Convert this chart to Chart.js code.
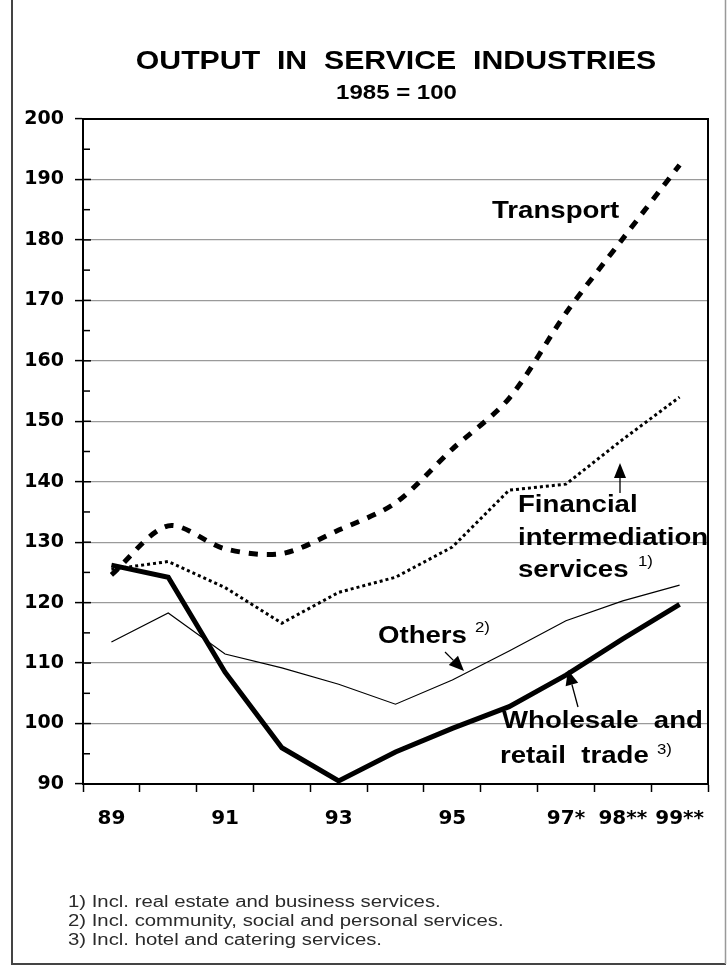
<!DOCTYPE html>
<html>
<head>
<meta charset="utf-8">
<script src="https://cdn.jsdelivr.net/npm/chart.js@4.4.0/dist/chart.umd.min.js"></script>
<style>
  html, body { margin: 0; padding: 0; background: #fff; }
  canvas { display: block; }
</style>
</head>
<body>
<canvas id="myChart" width="727" height="966"></canvas>
<script>
// values, 1985 = 100
const years = ['89', '90', '91', '92', '93', '94', '95', '96', '97', '98', '99'];
const xTickLabels = ['89', '', '91', '', '93', '', '95', '', '97*', '98**', '99**'];
const transport = [124.6, 132.7, 128.9, 128.1, 132, 136.5, 145.4, 153.8, 167.9, 180.2, 192.4];
const financial = [125.5, 126.8, 122.5, 116.6, 121.7, 124.2, 129.2, 138.6, 139.6, 147, 154];
const others = [113.5, 118.3, 111.5, 109.2, 106.5, 103.2, 107.2, 112, 117, 120.3, 122.9];
const wholesale = [126.2, 124.2, 108.5, 96, 90.5, 95.3, 99.2, 102.8, 108, 114, 119.7];
const yMin = 90, yMax = 200;

const footnotes = [
    '1) Incl. real estate and business services.',
    '2) Incl. community, social and personal services.',
    '3) Incl. hotel and catering services.'
];

const SANS = '"Liberation Sans", Arial, sans-serif';

// the original is a horizontally stretched scan, so text gets a bit of x scale
function stretchText(ctx, str, x, y, font, align, sx) {
    ctx.save();
    ctx.font = font;
    ctx.textAlign = align || 'left';
    ctx.textBaseline = 'alphabetic';
    ctx.translate(x, y);
    ctx.scale(sx || 1.2, 1);
    ctx.fillText(str, 0, 0);
    ctx.restore();
}

function arrow(ctx, x1, y1, x2, y2, head, half) {
    const ang = Math.atan2(y2 - y1, x2 - x1);
    const bx = x2 - head * Math.cos(ang), by = y2 - head * Math.sin(ang);
    ctx.beginPath();
    ctx.moveTo(x1, y1);
    ctx.lineTo(bx, by);
    ctx.stroke();
    ctx.beginPath();
    ctx.moveTo(x2, y2);
    ctx.lineTo(bx + half * Math.sin(ang), by - half * Math.cos(ang));
    ctx.lineTo(bx - half * Math.sin(ang), by + half * Math.cos(ang));
    ctx.closePath();
    ctx.fill();
}

const decor = {
    id: 'decor',
    afterDraw(chart) {
        const { ctx, chartArea: a, scales: { y } } = chart;
        ctx.save();
        ctx.strokeStyle = '#000';
        ctx.fillStyle = '#000';

        // plot box top + right
        ctx.lineWidth = 2;
        ctx.beginPath();
        ctx.moveTo(a.left, a.top);
        ctx.lineTo(a.right, a.top);
        ctx.lineTo(a.right, a.bottom);
        ctx.stroke();

        // inner ticks on the y axis, minor ones every 5
        ctx.lineWidth = 1.5;
        for (let v = yMin + 5; v < yMax; v += 5) {
            const py = y.getPixelForValue(v);
            ctx.beginPath();
            ctx.moveTo(a.left, py);
            ctx.lineTo(a.left + (v % 10 === 0 ? 8 : 7), py);
            ctx.stroke();
        }

        // outer page frame (no top line)
        ctx.strokeStyle = '#444';
        ctx.lineWidth = 2;
        ctx.beginPath();
        ctx.moveTo(12, 0);
        ctx.lineTo(12, 964);
        ctx.lineTo(726, 964);
        ctx.stroke();
        ctx.strokeStyle = '#999';
        ctx.lineWidth = 1.5;
        ctx.beginPath();
        ctx.moveTo(725.5, 0);
        ctx.lineTo(725.5, 964);
        ctx.stroke();

        // titles
        ctx.fillStyle = '#000';
        stretchText(ctx, 'OUTPUT  IN  SERVICE  INDUSTRIES', 396, 69, 'bold 25px ' + SANS, 'center', 1.21);
        stretchText(ctx, '1985 = 100', 396.5, 99, 'bold 20px ' + SANS, 'center', 1.2);

        // series labels
        const lab = 'bold 23px ' + SANS;
        const sup = '14px ' + SANS;
        stretchText(ctx, 'Transport', 492, 218, lab);
        stretchText(ctx, 'Financial', 518, 511.5, lab);
        stretchText(ctx, 'intermediation', 518, 545, lab);
        stretchText(ctx, 'services', 518, 577, lab);
        stretchText(ctx, '1)', 638, 566, sup);
        stretchText(ctx, 'Others', 378, 643, lab);
        stretchText(ctx, '2)', 475, 632, sup);
        stretchText(ctx, 'Wholesale  and', 502, 728.3, lab);
        stretchText(ctx, 'retail  trade', 500, 763.3, lab);
        stretchText(ctx, '3)', 657, 754, sup);

        // pointer arrows
        ctx.strokeStyle = '#000';
        ctx.lineWidth = 1.3;
        arrow(ctx, 620, 493, 620, 463, 15, 6);
        arrow(ctx, 445, 652, 464, 671, 15, 6.5);
        arrow(ctx, 578, 707, 568, 670, 15, 6.5);

        // footnotes
        ctx.fillStyle = '#2a2a2a';
        footnotes.forEach((t, i) => {
            stretchText(ctx, t, 68, 906.5 + i * 19, '16px ' + SANS, 'left', 1.27);
        });
        ctx.restore();
    }
};

const tickFont = { family: '"DejaVu Sans", sans-serif', weight: 'bold', size: 19 };

const ctx = document.getElementById('myChart');
const myChart = new Chart(ctx, {
    type: 'line',
    data: {
        labels: years,
        datasets: [{
            label: 'Wholesale and retail trade',
            data: wholesale,
            borderColor: '#000',
            borderWidth: 5,
            pointRadius: 0,
            tension: 0
        }, {
            label: 'Others',
            data: others,
            borderColor: '#000',
            borderWidth: 1.2,
            pointRadius: 0,
            tension: 0
        }, {
            label: 'Financial intermediation services',
            data: financial,
            borderColor: '#000',
            borderWidth: 3,
            borderDash: [3, 3],
            pointRadius: 0,
            tension: 0
        }, {
            label: 'Transport',
            data: transport,
            borderColor: '#000',
            borderWidth: 5,
            borderDash: [9, 9],
            pointRadius: 0,
            tension: 0.3
        }]
    },
    options: {
        responsive: false,
        animation: false,
        devicePixelRatio: 1,
        layout: {
            padding: { top: 119, right: 19, bottom: 132, left: 0 }
        },
        plugins: {
            legend: { display: false },
            tooltip: { enabled: false }
        },
        scales: {
            x: {
                offset: true,
                grid: {
                    offset: true,
                    drawOnChartArea: false,
                    tickLength: 8,
                    tickColor: '#000',
                    tickWidth: 1.5
                },
                border: { color: '#000', width: 2 },
                ticks: {
                    autoSkip: false,
                    maxRotation: 0,
                    padding: 15,
                    color: '#000',
                    font: { ...tickFont, size: 20 },
                    callback: (v, i) => xTickLabels[i]
                },
                afterFit: (s) => { s.height = 50; }
            },
            y: {
                min: yMin,
                max: yMax,
                ticks: {
                    stepSize: 10,
                    padding: 11,
                    color: '#000',
                    font: tickFont
                },
                grid: {
                    color: '#9a9a9a',
                    lineWidth: 1.2,
                    tickColor: '#000',
                    tickLength: 8,
                    tickWidth: 1.5
                },
                border: { color: '#000', width: 2 },
                afterFit: (s) => { s.width = 83; }
            }
        }
    },
    plugins: [decor]
});
</script>
</body>
</html>
